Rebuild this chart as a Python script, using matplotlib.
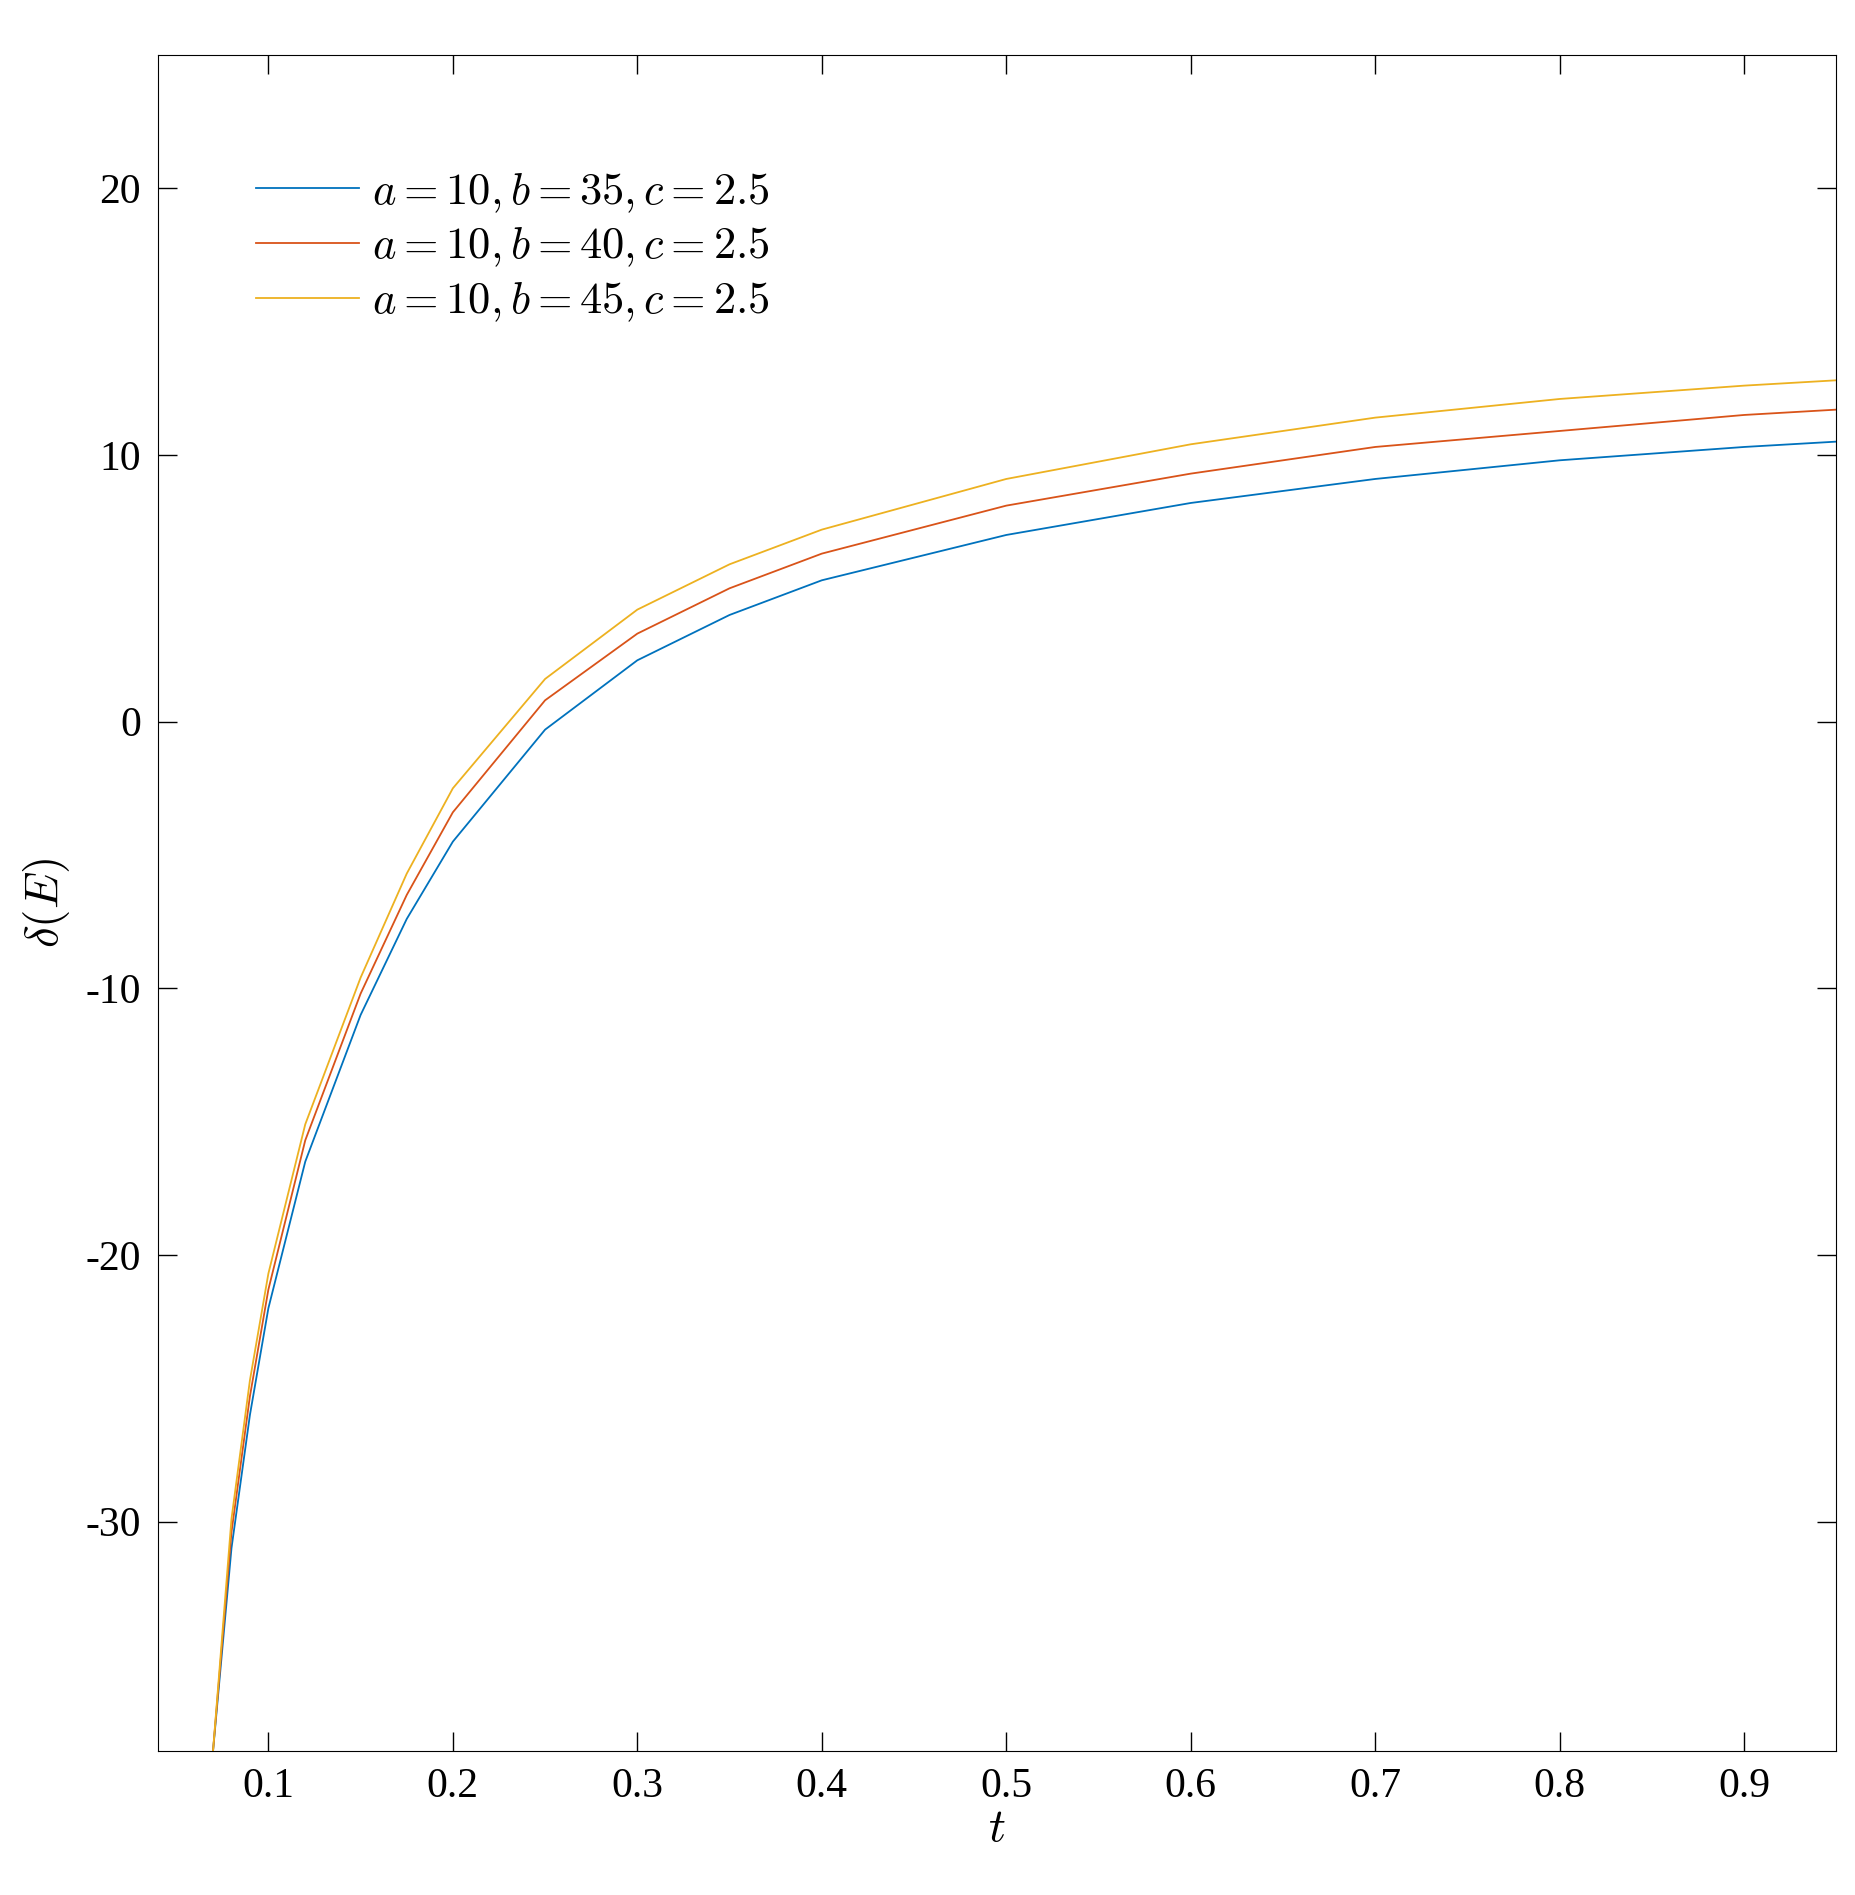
import matplotlib
matplotlib.use("Agg")
import matplotlib.pyplot as plt

plt.rcParams['font.family'] = ['Liberation Serif', 'DejaVu Serif']
plt.rcParams['mathtext.fontset'] = 'cm'

t = [0.07, 0.08, 0.09, 0.10, 0.12, 0.15, 0.175, 0.20, 0.25, 0.30, 0.35, 0.40, 0.50, 0.60, 0.70, 0.80, 0.90, 0.95]
b35 = [-38.6, -31.0, -26.0, -22.0, -16.5, -11.0, -7.4, -4.5, -0.3, 2.3, 4.0, 5.3, 7.0, 8.2, 9.1, 9.8, 10.3, 10.5]
b40 = [-38.6, -30.4, -25.3, -21.3, -15.7, -10.2, -6.5, -3.4, 0.8, 3.3, 5.0, 6.3, 8.1, 9.3, 10.3, 10.9, 11.5, 11.7]
b45 = [-38.6, -29.9, -24.7, -20.7, -15.1, -9.6, -5.7, -2.5, 1.6, 4.2, 5.9, 7.2, 9.1, 10.4, 11.4, 12.1, 12.6, 12.8]
labels = [r'$a=10, b=35, c=2.5$', r'$a=10, b=40, c=2.5$', r'$a=10, b=45, c=2.5$']
colors = ['#0072BD', '#D95319', '#EDB120']

fig = plt.figure(figsize=(18.55, 18.95), dpi=100)
ax = fig.add_axes([0.085, 0.076, 0.905, 0.895])
for y, lab, c in zip([b35, b40, b45], labels, colors):
    ax.plot(t, y, color=c, lw=1.3, label=lab)

ax.set_xlim(0.04, 0.95)
ax.set_ylim(-38.6, 25)
ax.set_xticks([0.1, 0.2, 0.3, 0.4, 0.5, 0.6, 0.7, 0.8, 0.9])
ax.set_xticklabels(['0.1', '0.2', '0.3', '0.4', '0.5', '0.6', '0.7', '0.8', '0.9'])
ax.set_yticks([-30, -20, -10, 0, 10, 20])
ax.set_yticklabels(['-30', '-20', '-10', '0', '10', '20'])
ax.tick_params(direction='in', top=True, right=True, length=14, width=1, labelsize=30, pad=12)
ax.set_xlabel(r'$t$', fontsize=34, labelpad=2)
ax.set_ylabel(r'$\delta(E)$', fontsize=34, labelpad=10)
ax.legend(loc='upper left', bbox_to_anchor=(0.035, 0.955), frameon=False, fontsize=32,
          handlelength=2.3, handletextpad=0.3, labelspacing=0.25)
fig.savefig('out.png', dpi=100)
